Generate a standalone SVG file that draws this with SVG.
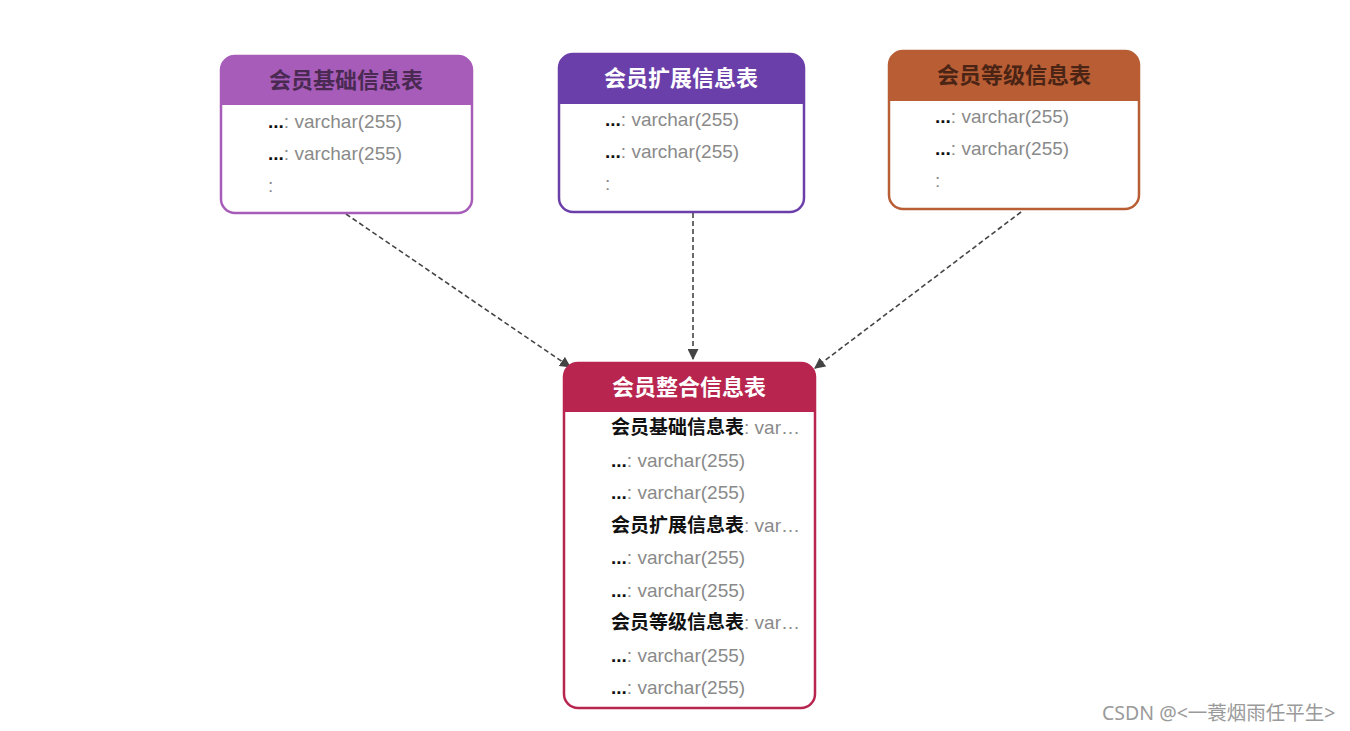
<svg xmlns="http://www.w3.org/2000/svg" width="1350" height="731" viewBox="0 0 1350 731">
<defs>
<style>
.t{font-family:"Liberation Sans","Noto Sans CJK SC",sans-serif;font-size:22px;font-weight:bold;text-anchor:middle}
.r{font-family:"Liberation Sans","Noto Sans CJK SC",sans-serif;font-size:19px;fill:#8a8a8a}
.k{fill:#111;font-weight:bold}
.c{fill:none;stroke:#444;stroke-width:1.6;stroke-dasharray:5,3}
</style>
<marker id="ah" viewBox="0 0 10 10" refX="9" refY="5" markerWidth="11" markerHeight="11" markerUnits="userSpaceOnUse" orient="auto">
<path d="M0,0 L10,5 L0,10 z" fill="#444"/>
</marker>
<clipPath id="c1"><rect x="221" y="56" width="251" height="157" rx="14"/></clipPath>
<clipPath id="c2"><rect x="559" y="54" width="245" height="158" rx="14"/></clipPath>
<clipPath id="c3"><rect x="889" y="51" width="250" height="158" rx="14"/></clipPath>
<clipPath id="c4"><rect x="564" y="363" width="251" height="345" rx="14"/></clipPath>
</defs>
<rect width="1350" height="731" fill="#fff"/>
<g id="connectors">
<line class="c" x1="346" y1="214" x2="570" y2="367" marker-end="url(#ah)"/>
<line class="c" x1="693" y1="213" x2="693" y2="359" marker-end="url(#ah)"/>
<line class="c" x1="1021" y1="212" x2="815" y2="368" marker-end="url(#ah)"/>
</g>
<g id="node1">
<rect x="221" y="56" width="251" height="157" rx="14" fill="#fff"/>
<rect x="221" y="56" width="251" height="49" fill="#a65cb8" clip-path="url(#c1)"/>
<rect x="221" y="56" width="251" height="157" rx="14" fill="none" stroke="#a65cb8" stroke-width="2.5"/>
<text class="t" x="346" y="88" fill="#4a2a52">会员基础信息表</text>
<text class="r" x="268" y="128"><tspan class="k">...</tspan>: varchar(255)</text>
<text class="r" x="268" y="160"><tspan class="k">...</tspan>: varchar(255)</text>
<text class="r" x="268" y="192">:</text>
</g>
<g id="node2">
<rect x="559" y="54" width="245" height="158" rx="14" fill="#fff"/>
<rect x="559" y="54" width="245" height="50" fill="#6b3fa9" clip-path="url(#c2)"/>
<rect x="559" y="54" width="245" height="158" rx="14" fill="none" stroke="#6b3fa9" stroke-width="2.5"/>
<text class="t" x="681" y="86" fill="#fff">会员扩展信息表</text>
<text class="r" x="605" y="126"><tspan class="k">...</tspan>: varchar(255)</text>
<text class="r" x="605" y="158"><tspan class="k">...</tspan>: varchar(255)</text>
<text class="r" x="605" y="190">:</text>
</g>
<g id="node3">
<rect x="889" y="51" width="250" height="158" rx="14" fill="#fff"/>
<rect x="889" y="51" width="250" height="50" fill="#b85d34" clip-path="url(#c3)"/>
<rect x="889" y="51" width="250" height="158" rx="14" fill="none" stroke="#b85d34" stroke-width="2.5"/>
<text class="t" x="1014" y="83" fill="#4a2414">会员等级信息表</text>
<text class="r" x="935" y="123"><tspan class="k">...</tspan>: varchar(255)</text>
<text class="r" x="935" y="155"><tspan class="k">...</tspan>: varchar(255)</text>
<text class="r" x="935" y="187">:</text>
</g>
<g id="node4">
<rect x="564" y="363" width="251" height="345" rx="14" fill="#fff"/>
<rect x="564" y="363" width="251" height="49" fill="#b8254f" clip-path="url(#c4)"/>
<rect x="564" y="363" width="251" height="345" rx="14" fill="none" stroke="#b8254f" stroke-width="2.5"/>
<text class="t" x="689" y="395" fill="#fff">会员整合信息表</text>
<text class="r" x="611" y="434"><tspan class="k">会员基础信息表</tspan>: var…</text>
<text class="r" x="611" y="467"><tspan class="k">...</tspan>: varchar(255)</text>
<text class="r" x="611" y="499"><tspan class="k">...</tspan>: varchar(255)</text>
<text class="r" x="611" y="532"><tspan class="k">会员扩展信息表</tspan>: var…</text>
<text class="r" x="611" y="564"><tspan class="k">...</tspan>: varchar(255)</text>
<text class="r" x="611" y="597"><tspan class="k">...</tspan>: varchar(255)</text>
<text class="r" x="611" y="629"><tspan class="k">会员等级信息表</tspan>: var…</text>
<text class="r" x="611" y="662"><tspan class="k">...</tspan>: varchar(255)</text>
<text class="r" x="611" y="694"><tspan class="k">...</tspan>: varchar(255)</text>
</g>
<text x="1102" y="720" font-family="'Noto Sans','Noto Sans CJK SC',sans-serif" font-size="19.5" fill="#9a9a9a">CSDN @&lt;一蓑烟雨任平生&gt;</text>
</svg>
